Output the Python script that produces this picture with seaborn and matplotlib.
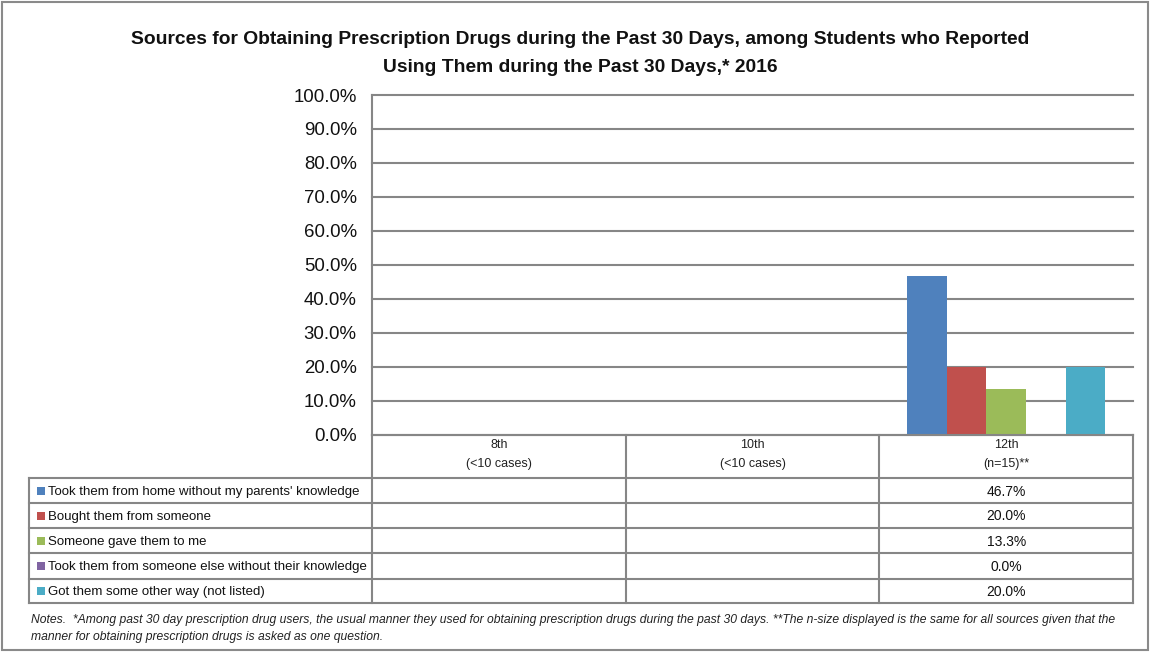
import numpy as np
import pandas as pd
import matplotlib
matplotlib.use("Agg")
import matplotlib.pyplot as plt
from matplotlib.patches import Rectangle
import seaborn as sns

# ---- data ----
grades = ["8th", "10th", "12th"]
grade_notes = ["(<10 cases)", "(<10 cases)", "(n=15)**"]
sources = [
    "Took them from home without my parents' knowledge",
    "Bought them from someone",
    "Someone gave them to me",
    "Took them from someone else without their knowledge",
    "Got them some other way (not listed)",
]
# percent per source, one entry per grade (None = too few cases to report)
took_home = [None, None, 46.7]
bought = [None, None, 20.0]
gave = [None, None, 13.3]
took_else = [None, None, 0.0]
other_way = [None, None, 20.0]
colors = ["#4F81BD", "#C0504D", "#9BBB59", "#8064A2", "#4BACC6"]
yticks = [0, 10, 20, 30, 40, 50, 60, 70, 80, 90, 100]

series = [took_home, bought, gave, took_else, other_way]
rows = []
for src, vals in zip(sources, series):
    for g, v in zip(grades, vals):
        rows.append({"grade": g, "source": src, "pct": v})
df = pd.DataFrame(rows)
plot_df = df.dropna(subset=["pct"])

W, H = 1151, 652
plt.rcParams["font.family"] = ["Liberation Sans", "DejaVu Sans"]
fig = plt.figure(figsize=(W / 100, H / 100), dpi=100)

# main chart area (pixel geometry)
L, R, T, B = 372, 1133, 95, 434.5
ax = fig.add_axes([L / W, 1 - B / H, (R - L) / W, (B - T) / H])

sns.barplot(
    data=plot_df, x="grade", y="pct", hue="source",
    order=grades, hue_order=sources, palette=colors,
    width=0.78, saturation=1, linewidth=0, legend=False, ax=ax,
)
ax.set_xlim(-0.5, len(grades) - 0.5)
ax.set_ylim(0, 100)
ax.set_yticks(yticks)
ax.set_yticklabels([f"{t:.1f}%" for t in yticks], fontsize=13.4, color="#111111")
ax.set_xticks([])
ax.set_xlabel("")
ax.set_ylabel("")
ax.tick_params(axis="y", length=0, pad=11)
ax.yaxis.grid(True, color="#868686", linewidth=1.5)
for gl in ax.get_ygridlines():
    gl.set_clip_on(False)
ax.set_axisbelow(True)
for s in ["top", "right", "bottom"]:
    ax.spines[s].set_visible(False)
ax.spines["left"].set_color("#868686")
ax.spines["left"].set_linewidth(1.5)

# overlay in pixel coordinates for the data table, title and notes
ov = fig.add_axes([0, 0, 1, 1], zorder=5)
ov.set_xlim(0, W)
ov.set_ylim(H, 0)
ov.axis("off")
ov.patch.set_alpha(0)

lc = "#868686"
lw = 1.5
col_w = (R - L) / len(grades)
col_edges = [L + i * col_w for i in range(len(grades) + 1)]
tbl_left = 29
header_top, header_bot = 434.5, 478
row_edges = [478, 503, 528, 553, 578.5, 603]

# header row lines
ov.plot([L, R], [header_top, header_top], color=lc, lw=lw)
for x in col_edges:
    ov.plot([x, x], [header_top, row_edges[-1]], color=lc, lw=lw)
ov.plot([tbl_left, tbl_left], [row_edges[0], row_edges[-1]], color=lc, lw=lw)
for y in row_edges:
    ov.plot([tbl_left, R], [y, y], color=lc, lw=lw)

# column headers
for i, (g, n) in enumerate(zip(grades, grade_notes)):
    cx = (col_edges[i] + col_edges[i + 1]) / 2
    ov.text(cx, 445, g, ha="center", va="center", fontsize=9, color="#222222")
    ov.text(cx, 464, n, ha="center", va="center", fontsize=9, color="#222222")

# row labels with colour keys and values
for r, (src, vals, c) in enumerate(zip(sources, series, colors)):
    cy = (row_edges[r] + row_edges[r + 1]) / 2
    ov.add_patch(Rectangle((37, cy - 4), 8, 8, facecolor=c, edgecolor="none"))
    ov.text(48, cy + 1.5, src, ha="left", va="center", fontsize=9.5, color="#111111")
    for i, v in enumerate(vals):
        if v is None:
            continue
        cx = (col_edges[i] + col_edges[i + 1]) / 2
        ov.text(cx, cy + 1, f"{v:.1f}%", ha="center", va="center", fontsize=10, color="#111111")

# title
ov.text(580, 40, "Sources for Obtaining Prescription Drugs during the Past 30 Days, among Students who Reported",
        ha="center", va="center", fontsize=13.9, fontweight="bold", color="#111111")
ov.text(580, 67, "Using Them during the Past 30 Days,* 2016",
        ha="center", va="center", fontsize=13.9, fontweight="bold", color="#111111")

# notes
ov.text(31, 620, "Notes.  *Among past 30 day prescription drug users, the usual manner they used for obtaining prescription drugs "
        "during the past 30 days. **The n-size displayed is the same for all sources given that the",
        ha="left", va="center", fontsize=8.7, style="italic", color="#222222")
ov.text(31, 637, "manner for obtaining prescription drugs is asked as one question.",
        ha="left", va="center", fontsize=8.7, style="italic", color="#222222")

# outer frame
ov.add_patch(Rectangle((2, 2), W - 5, H - 4, facecolor="none", edgecolor="#8a8a8a", lw=1.5))

fig.savefig("out.png", dpi=100)
